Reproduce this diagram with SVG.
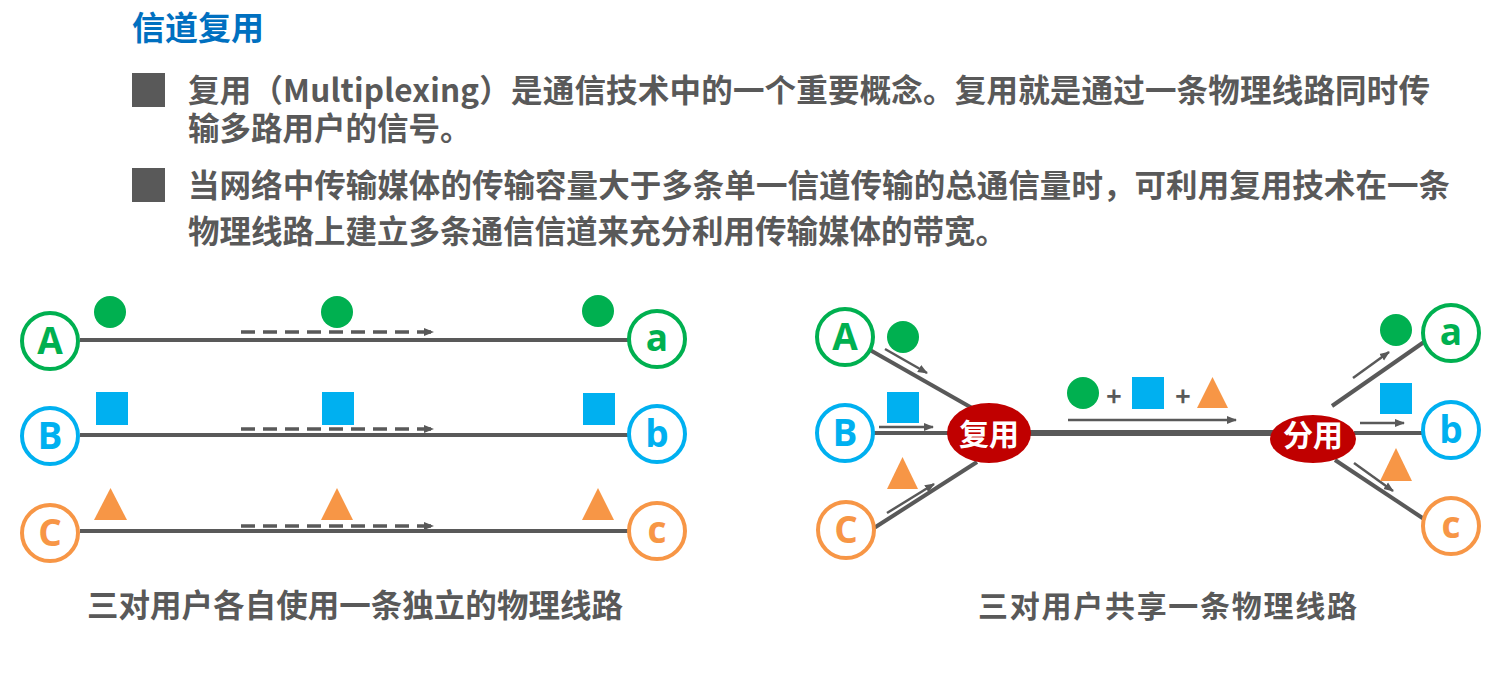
<svg xmlns="http://www.w3.org/2000/svg" width="1494" height="687" viewBox="0 0 1494 687">
<style>
.cjk{font-family:"Noto Sans CJK SC","Noto Sans",sans-serif;font-weight:bold}
.body{fill:#595959;font-size:31.5px}
.title{fill:#0070C0;font-size:33px}
.lab{font-family:"Open Sans","Noto Sans",sans-serif;font-weight:bold;font-size:37px;text-anchor:middle}
.ring{fill:#fff;stroke-width:4}
.g{stroke:#00B050;fill:#00B050}
.b{stroke:#00B0F0;fill:#00B0F0}
.o{stroke:#F79646;fill:#F79646}
.wire{stroke:#595959;stroke-width:4;fill:none}
.dash{stroke:#595959;stroke-width:3.5;stroke-dasharray:14 8;fill:none}
.arr{stroke:#595959;stroke-width:2.5;fill:none}
.mux{fill:#C00000}
.muxt{fill:#fff;font-size:30px;text-anchor:middle}
.gc{fill:#00B050}.bs{fill:#00B0F0}.ot{fill:#F79646}
</style>
<defs>
<marker id="ah" viewBox="0 0 10 10" refX="9" refY="5" markerWidth="10" markerHeight="10" markerUnits="userSpaceOnUse" orient="auto">
<path d="M0,1 L10,5 L0,9 z" fill="#595959"/>
</marker>
</defs>
<rect width="1494" height="687" fill="#fff"/>

<g id="header">
<text class="cjk title" x="132" y="40">信道复用</text>
<rect x="132" y="73" width="33" height="34" fill="#595959"/>
<text class="cjk body" x="188" y="102" textLength="1242" lengthAdjust="spacing">复用（Multiplexing）是通信技术中的一个重要概念。复用就是通过一条物理线路同时传</text>
<text class="cjk body" x="188" y="140">输多路用户的信号。</text>
<rect x="132" y="168" width="33" height="34" fill="#595959"/>
<text class="cjk body" x="188" y="197" textLength="1262" lengthAdjust="spacing">当网络中传输媒体的传输容量大于多条单一信道传输的总通信量时，可利用复用技术在一条</text>
<text class="cjk body" x="188" y="243">物理线路上建立多条通信信道来充分利用传输媒体的带宽。</text>
</g>

<g id="connectors">
<line class="wire" x1="80" y1="340" x2="629" y2="340"/>
<line class="wire" x1="80" y1="435" x2="629" y2="435"/>
<line class="wire" x1="80" y1="531" x2="629" y2="531"/>
<line class="dash" x1="241" y1="332" x2="433" y2="332" marker-end="url(#ah)"/>
<line class="dash" x1="241" y1="429" x2="433" y2="429" marker-end="url(#ah)"/>
<line class="dash" x1="241" y1="526" x2="433" y2="526" marker-end="url(#ah)"/>

<line class="wire" x1="870" y1="350" x2="972" y2="408"/>
<line class="wire" x1="873" y1="433" x2="950" y2="433"/>
<line class="wire" x1="874" y1="528" x2="977" y2="462"/>
<line stroke="#595959" stroke-width="6" x1="1028" y1="433" x2="1273" y2="433"/>
<line class="wire" x1="1332" y1="406" x2="1424" y2="342"/>
<line class="wire" x1="1354" y1="433" x2="1423" y2="433"/>
<line class="wire" x1="1335" y1="460" x2="1424" y2="519"/>

<line class="arr" x1="885" y1="349" x2="927" y2="373" marker-end="url(#ah)"/>
<line class="arr" x1="879" y1="427" x2="933" y2="427" marker-end="url(#ah)"/>
<line class="arr" x1="887" y1="513" x2="934" y2="484" marker-end="url(#ah)"/>
<line class="arr" x1="1068" y1="420" x2="1236" y2="420" marker-end="url(#ah)"/>
<line class="arr" x1="1353" y1="378" x2="1389" y2="352" marker-end="url(#ah)"/>
<line class="arr" x1="1360" y1="423" x2="1404" y2="423" marker-end="url(#ah)"/>
<line class="arr" x1="1354" y1="463" x2="1393" y2="491" marker-end="url(#ah)"/>
</g>

<g id="left-nodes">
<g id="nA1"><circle class="ring g" cx="50" cy="341" r="28" style="fill:#fff"/><text class="lab gc" x="50" y="354">A</text></g>
<g id="nB1"><circle class="ring b" cx="50" cy="436" r="28" style="fill:#fff"/><text class="lab bs" x="50" y="449">B</text></g>
<g id="nC1"><circle class="ring o" cx="50" cy="533" r="28" style="fill:#fff"/><text class="lab ot" x="50" y="546">C</text></g>
<g id="na1"><circle class="ring g" cx="657" cy="339" r="28" style="fill:#fff"/><text class="lab gc" x="657" y="351">a</text></g>
<g id="nb1"><circle class="ring b" cx="657" cy="434" r="28" style="fill:#fff"/><text class="lab bs" x="657" y="447">b</text></g>
<g id="nc1"><circle class="ring o" cx="657" cy="531" r="28" style="fill:#fff"/><text class="lab ot" x="657" y="543">c</text></g>
</g>

<g id="left-signals">
<circle class="gc" cx="110" cy="312" r="16"/>
<circle class="gc" cx="337" cy="312" r="16"/>
<circle class="gc" cx="598" cy="311" r="16"/>
<rect class="bs" x="96" y="392" width="32" height="33"/>
<rect class="bs" x="322" y="392" width="32" height="33"/>
<rect class="bs" x="583" y="393" width="32" height="32"/>
<polygon class="ot" points="110.5,488 127,520 94,520"/>
<polygon class="ot" points="337,488 353,520 321,520"/>
<polygon class="ot" points="598,488 614,520 582,520"/>
</g>

<g id="right-nodes">
<g id="nA2"><circle class="ring g" cx="845" cy="337" r="28" style="fill:#fff"/><text class="lab gc" x="845" y="350">A</text></g>
<g id="nB2"><circle class="ring b" cx="845" cy="433" r="28" style="fill:#fff"/><text class="lab bs" x="845" y="446">B</text></g>
<g id="nC2"><circle class="ring o" cx="846" cy="530" r="28" style="fill:#fff"/><text class="lab ot" x="846" y="543">C</text></g>
<g id="na2"><circle class="ring g" cx="1451" cy="333" r="28" style="fill:#fff"/><text class="lab gc" x="1451" y="345">a</text></g>
<g id="nb2"><circle class="ring b" cx="1451" cy="430" r="28" style="fill:#fff"/><text class="lab bs" x="1451" y="443">b</text></g>
<g id="nc2"><circle class="ring o" cx="1451" cy="526" r="28" style="fill:#fff"/><text class="lab ot" x="1451" y="538">c</text></g>
<g id="mux"><ellipse class="mux" cx="989" cy="433" rx="42" ry="30"/><text class="cjk muxt" x="989" y="445">复用</text></g>
<g id="demux"><ellipse class="mux" cx="1313" cy="439" rx="43" ry="24"/><text class="cjk muxt" x="1313" y="446">分用</text></g>
</g>

<g id="right-signals">
<circle class="gc" cx="903" cy="337" r="16"/>
<rect class="bs" x="887" y="392" width="32" height="31"/>
<polygon class="ot" points="902.5,457 918,489 887,489"/>
<circle class="gc" cx="1083" cy="393" r="16"/>
<text class="cjk" x="1114" y="406" font-size="26" fill="#595959" text-anchor="middle">+</text>
<rect class="bs" x="1132" y="377" width="32" height="32"/>
<text class="cjk" x="1183" y="406" font-size="26" fill="#595959" text-anchor="middle">+</text>
<polygon class="ot" points="1212.5,377 1228,408 1197,408"/>
<circle class="gc" cx="1396" cy="330" r="16"/>
<rect class="bs" x="1380" y="383" width="32" height="31"/>
<polygon class="ot" points="1396,448 1412,481 1380,481"/>
</g>

<g id="captions">
<text class="cjk body" x="87" y="617" textLength="536" lengthAdjust="spacing">三对用户各自使用一条独立的物理线路</text>
<text class="cjk body" x="978" y="617" textLength="379" lengthAdjust="spacing" style="font-size:30px">三对用户共享一条物理线路</text>
</g>
</svg>
